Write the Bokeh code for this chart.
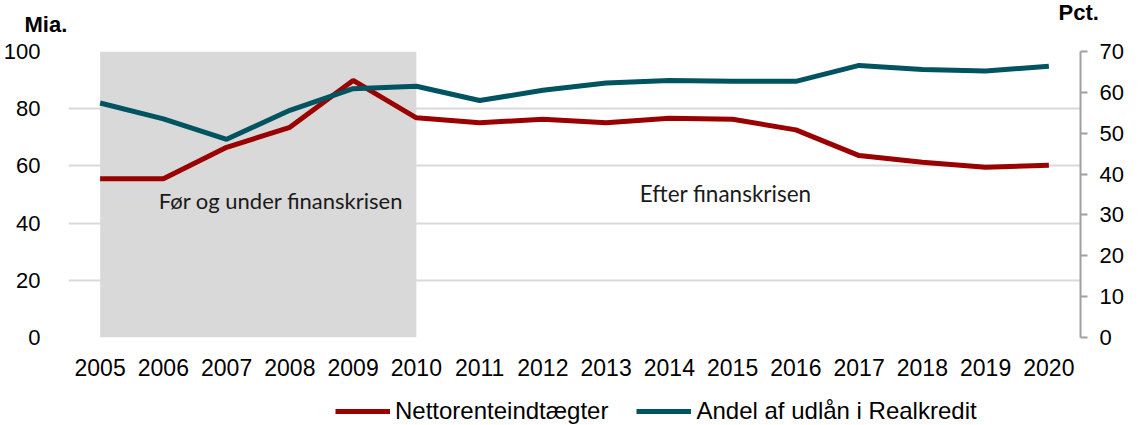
from bokeh.plotting import figure
from bokeh.models import (LinearAxis, Range1d, BoxAnnotation, Label, Legend,
                          LegendItem, FixedTicker, ColumnDataSource)
from bokeh.layouts import column, row
from bokeh.embed import file_html
from bokeh.resources import INLINE

years = list(range(2005, 2021))
netto = [55.5, 55.5, 66.5, 73.5, 89.9, 76.8, 75.1, 76.3, 75.1, 76.7, 76.3, 72.6,
         63.6, 61.3, 59.5, 60.2]
andel = [57.4, 53.5, 48.5, 55.6, 60.9, 61.5, 58.0, 60.5, 62.3, 62.9, 62.7, 62.7,
         66.6, 65.6, 65.2, 66.4]
left_ticks = [0, 20, 40, 60, 80, 100]
right_ticks = [0, 10, 20, 30, 40, 50, 60, 70]
crisis_start, crisis_end = 2005, 2010
series_names = ["Nettorenteindtægter", "Andel af udlån i Realkredit"]

RED = "#9a0000"
TEAL = "#005461"
FONT = "Liberation Sans"
W = 1128
NAN = float("nan")


def blank(h):
    f = figure(width=W, height=h, output_backend="svg", toolbar_location=None,
               x_range=Range1d(0, W), y_range=Range1d(0, h), min_border=0,
               x_axis_location=None, y_axis_location=None)
    f.grid.visible = False
    f.outline_line_color = None
    return f


# ---- header with unit labels
TOP_H = 37
top = blank(TOP_H)
top.add_layout(Label(x=24, y=TOP_H - 23.5, text="Mia.", text_font=FONT,
                     text_font_size="22px", text_font_style="bold", text_color="black",
                     text_align="left", text_baseline="middle"))
top.add_layout(Label(x=1058, y=TOP_H - 12, text="Pct.", text_font=FONT,
                     text_font_size="22px", text_font_style="bold", text_color="black",
                     text_align="left", text_baseline="middle"))

# ---- main chart
src = ColumnDataSource(dict(year=years, netto=netto, andel=andel))

p = figure(width=W, height=342, output_backend="svg", toolbar_location=None,
           x_range=Range1d(2004.5, 2020.5), y_range=Range1d(0, 100),
           min_border_left=61, min_border_right=48, min_border_top=14,
           min_border_bottom=42)
p.extra_y_ranges = {"pct": Range1d(0, 70)}
p.outline_line_color = None

p.add_layout(BoxAnnotation(left=crisis_start, right=crisis_end, bottom=0, top=100,
                           fill_color="#d9d9d9", fill_alpha=1.0, line_color=None,
                           level="underlay"))

p.xgrid.visible = False
p.ygrid.ticker = FixedTicker(ticks=left_ticks)
p.ygrid.grid_line_color = "#d9d9d9"
p.ygrid.grid_line_width = 2
p.ygrid.level = "underlay"

xa = p.xaxis[0]
xa.ticker = FixedTicker(ticks=years)
xa.axis_line_color = None
xa.major_tick_line_color = None
xa.minor_tick_line_color = None
xa.major_label_text_font = FONT
xa.major_label_text_font_size = "23px"
xa.major_label_text_color = "black"
xa.major_label_standoff = 15

ya = p.yaxis[0]
ya.ticker = FixedTicker(ticks=left_ticks)
ya.axis_line_color = None
ya.major_tick_line_color = None
ya.minor_tick_line_color = None
ya.major_label_text_font = FONT
ya.major_label_text_font_size = "22px"
ya.major_label_text_color = "black"
ya.major_label_standoff = 22

ra = LinearAxis(y_range_name="pct", ticker=FixedTicker(ticks=right_ticks))
ra.axis_line_color = "#a0a0a0"
ra.axis_line_width = 2
ra.major_tick_line_color = "#a0a0a0"
ra.major_tick_line_width = 2
ra.major_tick_in = 0
ra.major_tick_out = 7
ra.minor_tick_line_color = None
ra.major_label_text_font = FONT
ra.major_label_text_font_size = "22px"
ra.major_label_text_color = "black"
ra.major_label_standoff = 12
p.add_layout(ra, "right")

p.line("year", "netto", source=src, line_color=RED, line_width=5)
p.line("year", "andel", source=src, y_range_name="pct", line_color=TEAL, line_width=5)

p.add_layout(Label(x=2007.86, y=47.9, text="Før og under finanskrisen",
                   text_font="Lato", text_font_size="22px", text_color="#1a1a1a",
                   text_align="center", text_baseline="middle"))
p.add_layout(Label(x=2014.89, y=50.3, text="Efter finanskrisen",
                   text_font="Lato", text_font_size="22.5px", text_color="#1a1a1a",
                   text_align="center", text_baseline="middle"))

# ---- legend strip
leg = blank(46)
lr1 = leg.line(x=[NAN], y=[NAN], line_color=RED, line_width=5)
lr2 = leg.line(x=[NAN], y=[NAN], line_color=TEAL, line_width=5)
legend = Legend(items=[LegendItem(label=series_names[0], renderers=[lr1]),
                       LegendItem(label=series_names[1], renderers=[lr2])],
                orientation="horizontal", location=(335, 0),
                label_text_font=FONT, label_text_font_size="24px",
                label_text_color="black", glyph_width=55, glyph_height=26,
                label_standoff=5, spacing=28, padding=0, margin=0,
                border_line_alpha=0, background_fill_alpha=0)
leg.add_layout(legend, "center")

layout = column(row(top), p, row(leg), spacing=0)
open("out.html", "w").write(file_html(layout, INLINE))
